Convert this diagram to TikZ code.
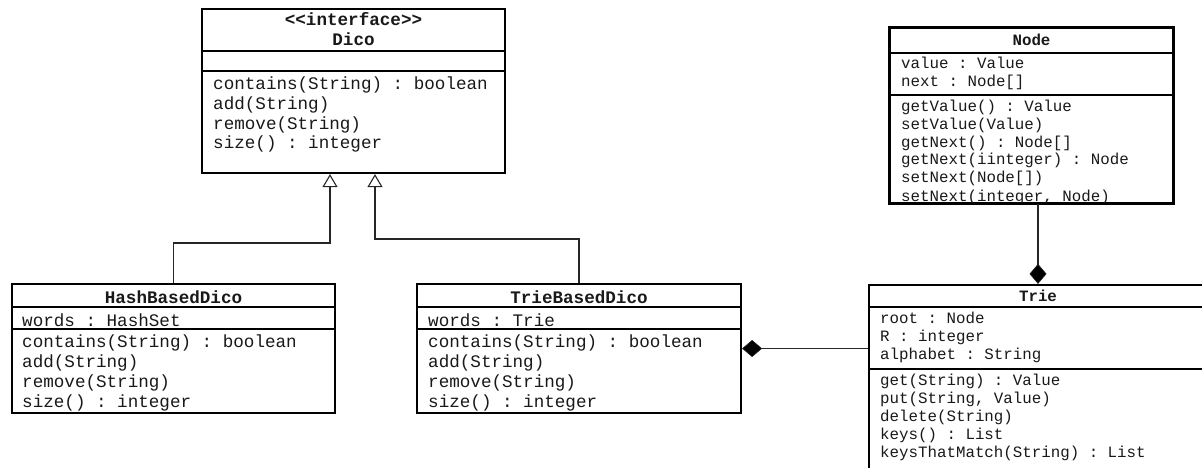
\documentclass[tikz,border=0pt]{standalone}
\usepackage{fontspec}
\setmonofont{Liberation Mono}
\usetikzlibrary{arrows.meta}
\begin{document}
\begin{tikzpicture}[x=1pt,y=-1pt,
  box/.style={draw=black, line width=2.2pt, rectangle, inner sep=0pt},
  sepline/.style={line width=2pt},
  big/.style={font=\ttfamily\fontsize{17.6}{20}\selectfont, text height=12pt, text depth=0pt},
  small/.style={font=\ttfamily\fontsize{15.8}{18}\selectfont, text height=10.8pt, text depth=0pt},
  bigb/.style={big, font=\ttfamily\bfseries\fontsize{17.6}{20}\selectfont},
  smallb/.style={small, font=\ttfamily\bfseries\fontsize{15.8}{18}\selectfont},
  txt/.style={anchor=west, inner sep=0pt, text=black!90},
  hd/.style={anchor=center, inner sep=0pt, text=black!90},
  link/.style={line width=1.1pt, draw=black!85},
  gen/.style={link, -{Triangle[open, length=13pt, width=15pt, fill=white, line width=1.1pt]}},
  comp/.style={link, -{Diamond[length=20pt, width=17pt, fill=black, line width=0.6pt]}}
]
\clip (0,0) rectangle (1202,468);
\fill[white] (0,0) rectangle (1202,468);

% ---------------- Dico ----------------
\node[box, minimum width=303pt, minimum height=164pt] (dico) at (353.5,91) {};
\draw[sepline] (dico.west |- 0,51) -- (dico.east |- 0,51);
\draw[sepline] (dico.west |- 0,71) -- (dico.east |- 0,71);
\node[hd,bigb] (dicoS) at (353.5,20) {<<interface>>};
\node[hd,bigb] (dicoN) at (353.5,40) {Dico};
\node[txt,big] (dico1) at (213,84) {contains(String) : boolean};
\node[txt,big] (dico2) at (213,104) {add(String)};
\node[txt,big] (dico3) at (213,124) {remove(String)};
\node[txt,big] (dico4) at (213,143) {size() : integer};

% ---------------- HashBasedDico ----------------
\node[box, minimum width=323pt, minimum height=129pt] (hash) at (173.5,348.5) {};
\draw[sepline] (hash.west |- 0,307) -- (hash.east |- 0,307);
\draw[sepline] (hash.west |- 0,329) -- (hash.east |- 0,329);
\node[hd,bigb] (hashN) at (173.5,297) {HashBasedDico};
\node[txt,big] (hash0) at (22,320) {words : HashSet};
\node[txt,big] (hash1) at (22,341) {contains(String) : boolean};
\node[txt,big] (hash2) at (22,361) {add(String)};
\node[txt,big] (hash3) at (22,381) {remove(String)};
\node[txt,big] (hash4) at (22,401) {size() : integer};

% ---------------- TrieBasedDico ----------------
\node[box, minimum width=324pt, minimum height=129pt] (tbd) at (579,348.5) {};
\draw[sepline] (tbd.west |- 0,307) -- (tbd.east |- 0,307);
\draw[sepline] (tbd.west |- 0,329) -- (tbd.east |- 0,329);
\node[hd,bigb] (tbdN) at (579,297) {TrieBasedDico};
\node[txt,big] (tbd0) at (428,320) {words : Trie};
\node[txt,big] (tbd1) at (428,341) {contains(String) : boolean};
\node[txt,big] (tbd2) at (428,361) {add(String)};
\node[txt,big] (tbd3) at (428,381) {remove(String)};
\node[txt,big] (tbd4) at (428,401) {size() : integer};

% ---------------- Node ----------------
\node[box, minimum width=283pt, minimum height=175pt] (node) at (1031.5,115.5) {};
\begin{scope}
\clip (node.north west) rectangle (node.south east);
\node[hd,smallb] (nodeN) at (1031.5,40) {Node};
\node[txt,small] (node1) at (901,63) {value : Value};
\node[txt,small] (node2) at (901,81) {next : Node[]};
\node[txt,small] (node3) at (901,106) {getValue() : Value};
\node[txt,small] (node4) at (901,124) {setValue(Value)};
\node[txt,small] (node5) at (901,142) {getNext() : Node[]};
\node[txt,small] (node6) at (901,159) {getNext(iinteger) : Node};
\node[txt,small] (node7) at (901,177) {setNext(Node[])};
\node[txt,small] (node8) at (901,196) {setNext(integer, Node)};
\end{scope}
\draw[sepline] (node.west |- 0,53) -- (node.east |- 0,53);
\draw[sepline] (node.west |- 0,95) -- (node.east |- 0,95);
\draw[box] (node.north west) rectangle (node.south east);

% ---------------- Trie ----------------
\node[box, minimum width=338pt, minimum height=195pt] (trie) at (1038,382.5) {};
\draw[sepline] (trie.west |- 0,307) -- (trie.east |- 0,307);
\draw[sepline] (trie.west |- 0,369) -- (trie.east |- 0,369);
\node[hd,smallb] (trieN) at (1038,296) {Trie};
\node[txt,small] (trie1) at (880,318) {root : Node};
\node[txt,small] (trie2) at (880,336) {R : integer};
\node[txt,small] (trie3) at (880,354) {alphabet : String};
\node[txt,small] (trie4) at (880,380) {get(String) : Value};
\node[txt,small] (trie5) at (880,398) {put(String, Value)};
\node[txt,small] (trie6) at (880,416) {delete(String)};
\node[txt,small] (trie7) at (880,434) {keys() : List};
\node[txt,small] (trie8) at (880,452) {keysThatMatch(String) : List};

% ---------------- connectors ----------------
\coordinate (dL) at ([xshift=-23.5pt]dico.south);
\coordinate (dR) at ([xshift=21.5pt]dico.south);
\draw[gen] (hash.north) -- (hash.north |- 0,243) -| (dL);
\draw[gen] (tbd.north) -- (tbd.north |- 0,239) -| (dR);
\draw[comp] (trie.west |- tbd.east) -- (tbd.east);
\draw[comp] (trie.north |- node.south) -- (trie.north);
\end{tikzpicture}
\end{document}
